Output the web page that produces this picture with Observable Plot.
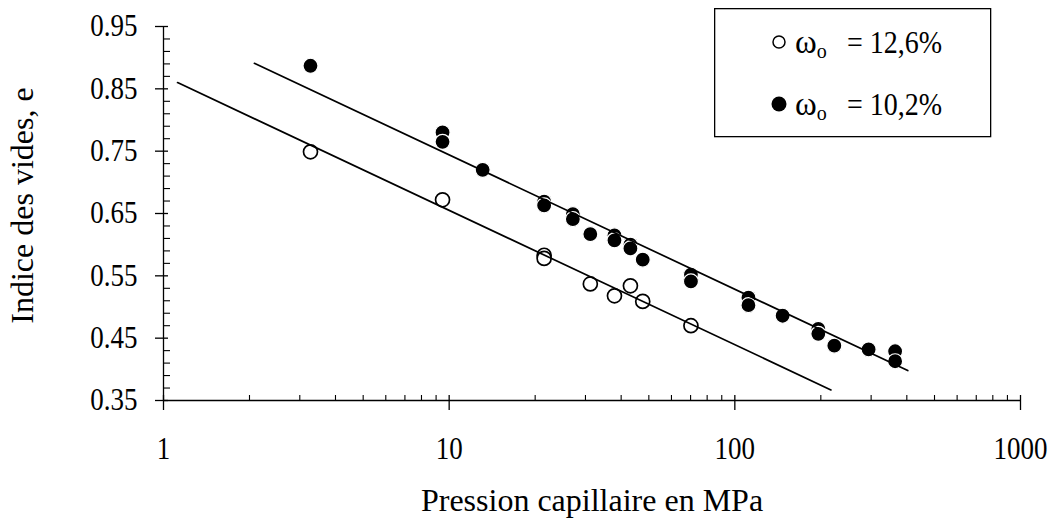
<!DOCTYPE html>
<html>
<head>
<meta charset="utf-8">
<script src="https://cdn.jsdelivr.net/npm/d3@7"></script>
<script src="https://cdn.jsdelivr.net/npm/@observablehq/plot@0.6"></script>
<style>
  html, body { margin: 0; padding: 0; background: #fff; }
  #wrap { position: relative; width: 1052px; height: 520px; overflow: hidden; }
  #legend { position: absolute; left: 714px; top: 8px; }
</style>
</head>
<body>
<div id="wrap"></div>
<script>
// ---- Data ----
// Series 1: ω_o = 12,6 % (open circles)
const openX = [3.27, 9.48, 21.5, 21.5, 31.2, 37.9, 43.1, 47.6, 70.2];
const openY = [0.749, 0.672, 0.583, 0.578, 0.537, 0.518, 0.534, 0.509, 0.470];

// Series 2: ω_o = 10,2 % (filled circles)
const filledX = [3.27, 9.48, 9.48, 13.1, 21.5, 21.5, 27.1, 27.1, 31.2, 37.9, 37.9, 43.1, 43.1, 47.6, 70.2, 70.2, 111.6, 111.6, 147, 196, 196, 223, 294, 364, 364];
const filledY = [0.887, 0.780, 0.765, 0.720, 0.669, 0.663, 0.649, 0.641, 0.617, 0.615, 0.607, 0.600, 0.594, 0.576, 0.552, 0.541, 0.515, 0.503, 0.486, 0.465, 0.457, 0.438, 0.432, 0.429, 0.413];

// Fitted straight lines (end points)
const fitUpperX = [2.08, 403];
const fitUpperY = [0.891, 0.398];
const fitLowerX = [1.12, 217];
const fitLowerY = [0.860, 0.367];

// Legend
const legendSymbol = "ω";
const legendSub = "o";
const legendValues = ["= 12,6%", "= 10,2%"];

// Axes
const xLabel = "Pression capillaire en MPa";
const yLabel = "Indice des vides, e";
const xMajor = [1, 10, 100, 1000];
const xMinor = [2, 3, 4, 5, 6, 7, 8, 9, 20, 30, 40, 50, 60, 70, 80, 90, 200, 300, 400, 500, 600, 700, 800, 900];
const yMajor = [0.35, 0.45, 0.55, 0.65, 0.75, 0.85, 0.95];
const yMinor = [0.37, 0.39, 0.41, 0.43, 0.47, 0.49, 0.51, 0.53, 0.57, 0.59, 0.61, 0.63, 0.67, 0.69, 0.71, 0.73, 0.77, 0.79, 0.81, 0.83, 0.87, 0.89, 0.91, 0.93];

// ---- Tables built from the arrays ----
const openData = openX.map((x, i) => ({x, y: openY[i]}));
const filledData = filledX.map((x, i) => ({x, y: filledY[i]}));
const upper = fitUpperX.map((x, i) => ({x, y: fitUpperY[i]}));
const lower = fitLowerX.map((x, i) => ({x, y: fitLowerY[i]}));

const FONT = "'Liberation Serif', 'Times New Roman', serif";
const blank = () => "";

const chart = Plot.plot({
  width: 1052,
  height: 520,
  marginLeft: 163,
  marginRight: 32,
  marginTop: 26,
  marginBottom: 120,
  style: {fontFamily: FONT, fontSize: "27px", color: "black", background: "white", overflow: "visible"},
  x: {type: "log", domain: [1, 1000]},
  y: {domain: [0.35, 0.95]},
  marks: [
    // y axis ticks
    Plot.axisY(yMajor, {tickSize: 8, tickFormat: blank, label: null, strokeWidth: 1.3}),
    Plot.axisY(yMajor, {tickSize: -5, tickFormat: blank, label: null, strokeWidth: 1.3}),
    Plot.axisY(yMinor, {tickSize: -7, tickFormat: blank, label: null, strokeWidth: 1.1}),
    Plot.axisY(yMajor, {tickSize: 0, tickPadding: 26, tickFormat: d => d.toFixed(2), label: null, fontSize: 27}),
    Plot.axisY([], {tickSize: 0, label: yLabel, labelAnchor: "center", labelArrow: "none", labelOffset: 153, fontSize: 32}),
    // x axis ticks
    Plot.axisX(xMajor, {tickSize: 10, tickFormat: blank, label: null, strokeWidth: 1.3}),
    Plot.axisX(xMajor, {tickSize: -5, tickFormat: blank, label: null, strokeWidth: 1.3}),
    Plot.axisX(xMinor, {tickSize: -5, tickFormat: blank, label: null, strokeWidth: 1.1}),
    Plot.axisX(xMajor, {tickSize: 0, tickPadding: 37, tickFormat: d => String(d), label: null, fontSize: 27}),
    Plot.axisX([], {tickSize: 0, label: xLabel, labelAnchor: "center", labelArrow: "none", labelOffset: 110, fontSize: 32}),
    // axis lines
    Plot.ruleX([1], {stroke: "black", strokeWidth: 1.3}),
    Plot.ruleY([0.35], {stroke: "black", strokeWidth: 1.3}),
    // data
    Plot.dot(openData, {x: "x", y: "y", r: 7, fill: "white", stroke: "black", strokeWidth: 1.7}),
    Plot.dot(filledData, {x: "x", y: "y", r: 7.5, fill: "black", stroke: "white", strokeWidth: 1.2}),
    Plot.line(upper, {x: "x", y: "y", stroke: "black", strokeWidth: 1.7}),
    Plot.line(lower, {x: "x", y: "y", stroke: "black", strokeWidth: 1.7})
  ]
});

const wrap = document.getElementById("wrap");
wrap.appendChild(chart);

// ---- Legend (boxed, top right) ----
const lg = d3.select(wrap).append("svg")
  .attr("id", "legend")
  .attr("width", 278).attr("height", 130)
  .style("font-family", FONT);
lg.append("rect")
  .attr("x", 0.65).attr("y", 0.65).attr("width", 276).attr("height", 128)
  .attr("fill", "white").attr("stroke", "black").attr("stroke-width", 1.3);

const rows = [
  {cy: 34, base: 45, r: 6, fill: "white", stroke: "black", sw: 1.5, text: legendValues[0]},
  {cy: 96, base: 107, r: 7.5, fill: "black", stroke: "black", sw: 0, text: legendValues[1]}
];
rows.forEach(row => {
  lg.append("circle").attr("cx", 65).attr("cy", row.cy).attr("r", row.r)
    .attr("fill", row.fill).attr("stroke", row.stroke).attr("stroke-width", row.sw);
  const t = lg.append("text").attr("x", 81).attr("y", row.base).attr("font-size", 33).attr("fill", "black");
  t.append("tspan").text(legendSymbol);
  t.append("tspan").attr("font-size", 20).attr("dy", 5).text(legendSub);
  lg.append("text").attr("class", "stretch").attr("x", 133).attr("y", row.base).attr("font-size", 28).attr("fill", "black").text(row.text);
});

// Reference text is drawn taller than it is wide: keep each label's width, raise its height.
function stretch(nodes, k) {
  nodes.forEach(node => {
    const w = node.getComputedTextLength();
    if (!w) return;
    const fs = parseFloat(getComputedStyle(node).fontSize);
    node.setAttribute("font-size", fs * k);
    node.setAttribute("textLength", w);
    node.setAttribute("lengthAdjust", "spacingAndGlyphs");
  });
}
stretch(Array.from(chart.querySelectorAll('g[aria-label="x-axis tick label"] text, g[aria-label="y-axis tick label"] text')), 1.13);
stretch(Array.from(document.querySelectorAll('#legend text.stretch')), 1.15);

// y title sits a little above the frame centre in the reference
chart.querySelectorAll('g[aria-label="y-axis label"] text').forEach(node => {
  const tr = node.getAttribute("transform") || "";
  node.setAttribute("transform", "translate(0,-8) " + tr);
});
</script>
</body>
</html>
